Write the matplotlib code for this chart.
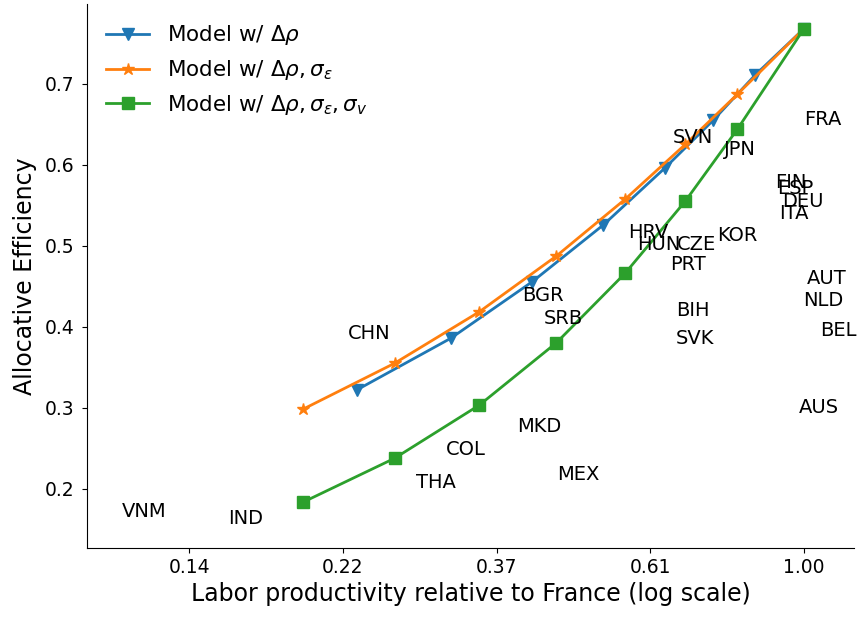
import numpy as np
import matplotlib
matplotlib.use("Agg")
import matplotlib.pyplot as plt

# model curves (labor productivity relative to France, allocative efficiency)
x_rho = [0.2335, 0.317, 0.4133, 0.5206, 0.636, 0.7445, 0.853, 1.0]
y_rho = [0.3219, 0.3857, 0.4556, 0.5256, 0.5959, 0.655, 0.7107, 0.768]

x_grid = [0.1959, 0.264, 0.348, 0.447, 0.5588, 0.680, 0.805, 1.0]
y_rho_eps = [0.298, 0.3548, 0.4185, 0.4873, 0.5573, 0.6252, 0.6869, 0.768]
y_rho_eps_v = [0.1832, 0.2375, 0.3033, 0.3802, 0.4659, 0.5552, 0.6437, 0.768]

# countries (data)
countries = ["FRA", "SVN", "JPN", "FIN", "ESP", "DEU", "ITA", "HRV", "HUN", "CZE",
             "KOR", "PRT", "AUT", "NLD", "BEL", "BIH", "SVK", "BGR", "SRB", "AUS",
             "MKD", "COL", "MEX", "THA", "CHN", "VNM", "IND"]
country_x = [1.001, 0.6525, 0.771, 0.910, 0.915, 0.930, 0.923, 0.5647, 0.5804, 0.661,
             0.753, 0.648, 1.009, 0.998, 1.053, 0.6595, 0.6589, 0.3993, 0.4284, 0.982,
             0.3936, 0.3119, 0.4479, 0.2829, 0.2267, 0.1089, 0.1538]
country_y = [0.6493, 0.6265, 0.6122, 0.571, 0.564, 0.5484, 0.5332, 0.5093, 0.495, 0.495,
             0.5052, 0.4702, 0.453, 0.4258, 0.3888, 0.4138, 0.3784, 0.432, 0.4036, 0.294,
             0.2706, 0.241, 0.211, 0.2006, 0.3846, 0.1648, 0.1567]

tick_vals = np.exp([-2.0, -1.5, -1.0, -0.5, 0.0])

fig = plt.figure(figsize=(8.57, 6.18), dpi=100)
ax = fig.add_axes([0.1015, 0.1133, 0.895, 0.8802])

ax.plot(x_rho, y_rho, marker="v", ms=9, lw=2, label=r"Model w/ $\Delta\rho$")
ax.plot(x_grid, y_rho_eps, marker="*", ms=9, lw=2, label=r"Model w/ $\Delta\rho, \sigma_\varepsilon$")
ax.plot(x_grid, y_rho_eps_v, marker="s", ms=9, lw=2,
        label=r"Model w/ $\Delta\rho, \sigma_\varepsilon, \sigma_v$")

for c, cx, cy in zip(countries, country_x, country_y):
    ax.text(cx, cy, c, fontsize=14)

ax.set_xscale("log")
ax.set_xlim(0.0971, 1.1766)
ax.set_ylim(0.1268, 0.7984)
ax.set_xticks(tick_vals)
ax.set_xticklabels(["%.2f" % v for v in tick_vals])
ax.xaxis.set_minor_locator(matplotlib.ticker.NullLocator())
ax.tick_params(labelsize=13.5)
ax.tick_params(axis="y", pad=5.5)

ax.set_xlabel("Labor productivity relative to France (log scale)", fontsize=17)
ax.set_ylabel("Allocative Efficiency", fontsize=17, labelpad=5.5)
ax.spines["top"].set_visible(False)
ax.spines["right"].set_visible(False)

ax.legend(loc="upper left", frameon=False, fontsize=15.5)

fig.savefig("out.png", dpi=100)
